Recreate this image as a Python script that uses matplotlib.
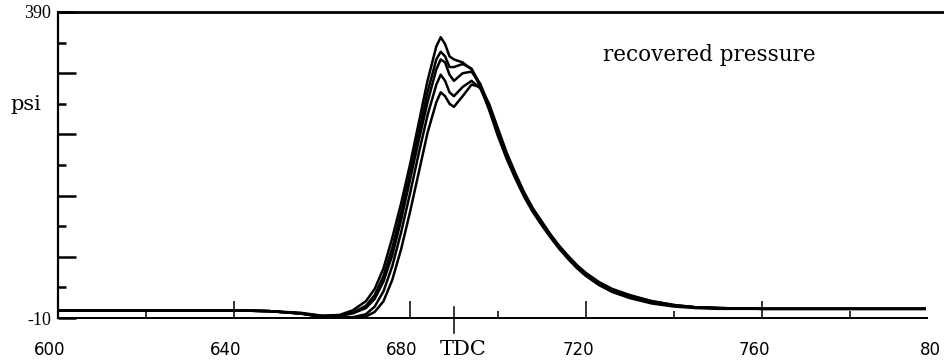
import matplotlib
matplotlib.use('Agg')
import matplotlib.pyplot as plt

# crank angle grid (deg) shared by every recovered cycle
angle = [600, 640, 648, 655, 660, 664, 667, 670, 672, 674, 676, 678, 680, 682,
         684, 686, 687, 688, 689, 690, 692, 694, 696, 698, 700, 702, 704, 706,
         708, 710, 712, 714, 716, 718, 720, 723, 726, 730, 735, 740, 745, 750,
         760, 780, 797]

# recovered pressure (psi) for five cycles
cycle_a = [0, 0, -1, -4, -7, -6, 0, 12, 28, 55, 95, 140, 190, 245, 300, 345, 357,
           348, 332, 328, 324, 315, 292, 262, 228, 198, 172, 148, 128, 111, 95, 80,
           67, 55, 45, 33, 24, 16, 9, 5, 3, 2, 2, 2, 2]
cycle_b = [0, 0, -1, -4, -8, -8, -3, 6, 20, 45, 82, 128, 178, 232, 285, 328, 338,
           332, 318, 318, 322, 316, 295, 265, 230, 200, 173, 150, 129, 112, 96, 81,
           68, 56, 46, 34, 25, 17, 10, 6, 4, 3, 2, 2, 2]
cycle_c = [0, 0, -1, -3, -7, -7, -4, 3, 15, 38, 72, 118, 170, 222, 272, 315, 328,
           324, 308, 300, 310, 312, 296, 268, 232, 201, 175, 151, 130, 113, 97, 82,
           69, 57, 47, 35, 26, 18, 11, 6, 4, 3, 2, 2, 2]
cycle_d = [0, 0, -1, -4, -8, -9, -9, -5, 5, 25, 58, 102, 152, 205, 255, 295, 308,
           300, 285, 280, 292, 300, 290, 266, 233, 203, 176, 152, 131, 114, 98, 83,
           70, 58, 48, 36, 27, 19, 12, 7, 4, 3, 2, 2, 2]
cycle_e = [0, 0, -1, -4, -9, -10, -10, -8, -2, 12, 40, 80, 128, 180, 232, 272, 285,
           280, 270, 266, 280, 295, 292, 270, 238, 206, 179, 154, 133, 116, 99, 84,
           71, 59, 49, 37, 28, 20, 12, 7, 4, 3, 2, 2, 2]
cycles = [cycle_a, cycle_b, cycle_c, cycle_d, cycle_e]

x_tick_vals = [600, 640, 680, 720, 760, 800]
x_tick_text = ['600', '640', '680', '720', '760', '80']
x_long = [640, 680, 720, 760]
x_short = [620, 700, 740, 780]
y_long = [-10, 70, 150, 230, 310, 390]
y_short = [30, 110, 190, 270, 350]
TDC = 690

fig = plt.figure(figsize=(9.44, 3.62), dpi=100)
ax = fig.add_axes([0.0614, 0.1215, 0.9386, 0.8454])

for p in cycles:
    ax.plot(angle, p, color='black', lw=1.8)

ax.set_xlim(600, 801.4)
ax.set_ylim(-10, 390)

ax.spines['right'].set_visible(False)
ax.spines['top'].set_linewidth(2.0)
ax.spines['left'].set_linewidth(1.6)
ax.spines['bottom'].set_linewidth(1.4)
ax.spines['bottom'].set_bounds(600, 797.5)

# x ticks: inward, labels drawn as text (slightly left of their tick, as in the scan)
ax.set_xticks(x_long)
ax.set_xticks(x_short, minor=True)
ax.tick_params(axis='x', which='major', direction='in', length=12, width=1.1,
               labelbottom=False)
ax.tick_params(axis='x', which='minor', direction='in', length=5, width=1.1)
for v, s in zip(x_tick_vals, x_tick_text):
    ax.text(v - 1.8, -0.105, s, transform=ax.get_xaxis_transform(), ha='center',
            va='center', fontsize=12, family='DejaVu Sans', clip_on=False)

# TDC marker crossing the axis
ax.axvline(TDC, ymin=-0.05, ymax=0.036, color='black', lw=1.1, clip_on=False)
ax.text(TDC + 2, -0.102, 'TDC', transform=ax.get_xaxis_transform(), ha='center',
        va='center', fontsize=15, family='DejaVu Serif', clip_on=False)

# y ticks: inward, only the ends labelled
ax.set_yticks(y_long)
ax.set_yticklabels(['-10', '', '', '', '', '390'])
ax.set_yticks(y_short, minor=True)
ax.tick_params(axis='y', which='major', direction='in', length=13, width=1.8,
               pad=5, labelsize=13)
ax.tick_params(axis='y', which='minor', direction='in', length=6, width=1.8)
for lab in ax.get_yticklabels():
    lab.set_family('Liberation Serif')

fig.text(0.027, 0.71, 'psi', fontsize=15, family='DejaVu Serif', ha='center',
         va='center')
ax.text(748, 334, 'recovered pressure', fontsize=15.5, family='DejaVu Serif',
        ha='center', va='center')

plt.savefig('out.png', dpi=100)
